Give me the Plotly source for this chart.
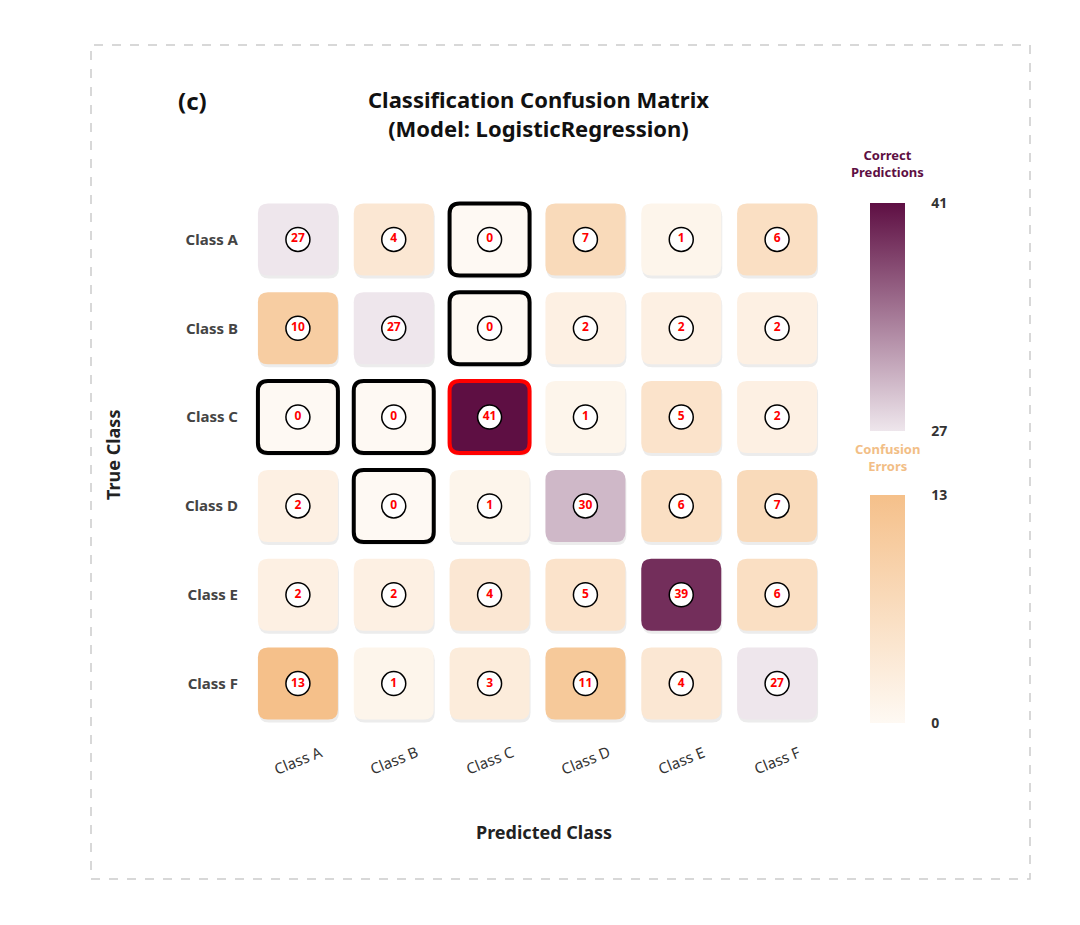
import plotly.graph_objects as go
from plotly.colors import sample_colorscale

classes = ["Class A", "Class B", "Class C", "Class D", "Class E", "Class F"]
matrix = [
    [27, 4, 0, 7, 1, 6],
    [10, 27, 0, 2, 2, 2],
    [0, 0, 41, 1, 5, 2],
    [2, 0, 1, 30, 6, 7],
    [2, 2, 4, 5, 39, 6],
    [13, 1, 3, 11, 4, 27],
]
correct_scale = [[0, "#EEE6EC"], [1, "#5E0F43"]]
error_scale = [[0, "#FEF9F3"], [1, "#F5C08A"]]
correct_range = [27, 41]
error_range = [0, 13]

FONT = "Noto Sans"
OFF = 8  # page body margin
W, H = 1080, 925
# plot area in reference pixel coordinates
PX0, PX1, PY0, PY1 = 250, 825, 195, 728
L, T = PX0 - OFF, PY0 - OFF
R = W - (PX1 - OFF)
B = H - (PY1 - OFF)
pw, ph = PX1 - PX0, PY1 - PY0
n = len(classes)
pxx, pxy = pw / n, ph / n


def fx(px):
    return (px - PX0) / pw


def fy(py):
    return (PY1 - py) / ph


hw, hh = 40 / pxx, 36 / pxy
rx, ry = 10 / pxx, 10 / pxy


def rrect(cx, cy, dx=0.0, dy=0.0):
    x0, x1 = cx - hw + dx, cx + hw + dx
    y0, y1 = cy - hh + dy, cy + hh + dy
    return (f"M {x0+rx},{y0} L {x1-rx},{y0} Q {x1},{y0} {x1},{y0+ry} "
            f"L {x1},{y1-ry} Q {x1},{y1} {x1-rx},{y1} L {x0+rx},{y1} "
            f"Q {x0},{y1} {x0},{y1-ry} L {x0},{y0+ry} Q {x0},{y0} {x0+rx},{y0} Z")


def color_for(v, diag):
    if diag:
        t = (v - correct_range[0]) / (correct_range[1] - correct_range[0])
        return sample_colorscale(correct_scale, [min(max(t, 0), 1)])[0]
    t = (v - error_range[0]) / (error_range[1] - error_range[0])
    return sample_colorscale(error_scale, [min(max(t, 0), 1)])[0]


vmax = max(max(r) for r in matrix)
shapes = []
for i in range(n):
    for j in range(n):
        shapes.append(dict(type="path", xref="x", yref="y", layer="below",
                           path=rrect(j, i, 1 / pxx, 3 / pxy),
                           fillcolor="#ECECEC", line=dict(width=0)))
for i in range(n):
    for j in range(n):
        v = matrix[i][j]
        diag = i == j
        if v == vmax:
            line = dict(color="#FF0000", width=4)
        elif v == 0:
            line = dict(color="#000000", width=4)
        else:
            line = dict(width=0)
        shapes.append(dict(type="path", xref="x", yref="y", layer="below",
                           path=rrect(j, i), fillcolor=color_for(v, diag), line=line))

shapes.append(dict(type="rect", xref="paper", yref="paper",
                   x0=fx(91), x1=fx(1030), y0=fy(879), y1=fy(45),
                   line=dict(color="#CCCCCC", width=1.5, dash="dash"),
                   fillcolor="rgba(0,0,0,0)", layer="below"))

xs, ys, txt = [], [], []
dx, dy, dv = [], [], []
ox, oy, ov = [], [], []
for i in range(n):
    for j in range(n):
        xs.append(j); ys.append(i); txt.append(f"<b>{matrix[i][j]}</b>")
        if i == j:
            dx.append(j); dy.append(i); dv.append(matrix[i][j])
        else:
            ox.append(j); oy.append(i); ov.append(matrix[i][j])

fig = go.Figure()

cb_common = dict(thickness=35, thicknessmode="pixels", lenmode="pixels", len=228,
                 xanchor="left", xpad=0, ypad=0, outlinewidth=0,
                 ticks="outside", ticklen=24, tickcolor="rgba(0,0,0,0)",
                 tickfont=dict(family=FONT, size=14, color="#333333", weight="bold"))

fig.add_trace(go.Scatter(
    x=dx, y=dy, mode="markers", hoverinfo="skip", showlegend=False,
    marker=dict(size=1, opacity=0, color=dv, colorscale=correct_scale,
                cmin=correct_range[0], cmax=correct_range[1], showscale=True,
                colorbar=dict(x=fx(870), y=fy(203), yanchor="top",
                              tickvals=correct_range, **cb_common))))
fig.add_trace(go.Scatter(
    x=ox, y=oy, mode="markers", hoverinfo="skip", showlegend=False,
    marker=dict(size=1, opacity=0, color=ov, colorscale=error_scale,
                cmin=error_range[0], cmax=error_range[1], showscale=True,
                colorbar=dict(x=fx(870), y=fy(495), yanchor="top",
                              tickvals=error_range, **cb_common))))

fig.add_trace(go.Scatter(
    x=xs, y=ys, mode="markers+text", text=txt, textposition="middle center",
    textfont=dict(family=FONT, size=12, color="#FF0000"),
    marker=dict(size=24, color="white", line=dict(color="black", width=1.5)),
    hoverinfo="skip", showlegend=False))


def ann(text, x, y, size, color, angle=0, xref="paper"):
    return dict(text=text, x=x, y=y, xref=xref, yref="paper", showarrow=False,
                xanchor="center", yanchor="middle", textangle=angle,
                font=dict(family=FONT, size=size, color=color))


annotations = [
    ann("<b>Classification Confusion Matrix<br>(Model: LogisticRegression)</b>",
        fx(538), fy(114), 22, "#111111"),
    ann("<b>(c)</b>", fx(192), fy(100), 24, "#111111"),
    ann("<b>Correct<br>Predictions</b>", fx(887), fy(164), 13, "#5E0F43"),
    ann("<b>Confusion<br>Errors</b>", fx(887), fy(457), 13, "#F2BE86"),
    ann("<b>True Class</b>", fx(113), fy(455), 18, "#222222", angle=-90),
    ann("<b>Predicted Class</b>", fx(544), fy(832), 18, "#222222"),
]
for j, c in enumerate(classes):
    annotations.append(ann(c, j, fy(760), 15, "#333333", angle=-22, xref="x"))

fig.update_layout(
    width=W, height=H, margin=dict(l=L, r=R, t=T, b=B, autoexpand=False),
    paper_bgcolor="white", plot_bgcolor="white",
    shapes=shapes, annotations=annotations,
    font=dict(family=FONT),
    xaxis=dict(range=[-0.5, n - 0.5], tickvals=list(range(n)), showticklabels=False,
               showgrid=False, zeroline=False, showline=False),
    yaxis=dict(range=[n - 0.5, -0.5], tickvals=list(range(n)), ticktext=classes,
               showgrid=False, zeroline=False, showline=False,
               ticks="outside", ticklen=8, tickcolor="rgba(0,0,0,0)",
               tickfont=dict(family=FONT, size=15, color="#444444", weight="bold")),
)

fig.write_html("out.html")
